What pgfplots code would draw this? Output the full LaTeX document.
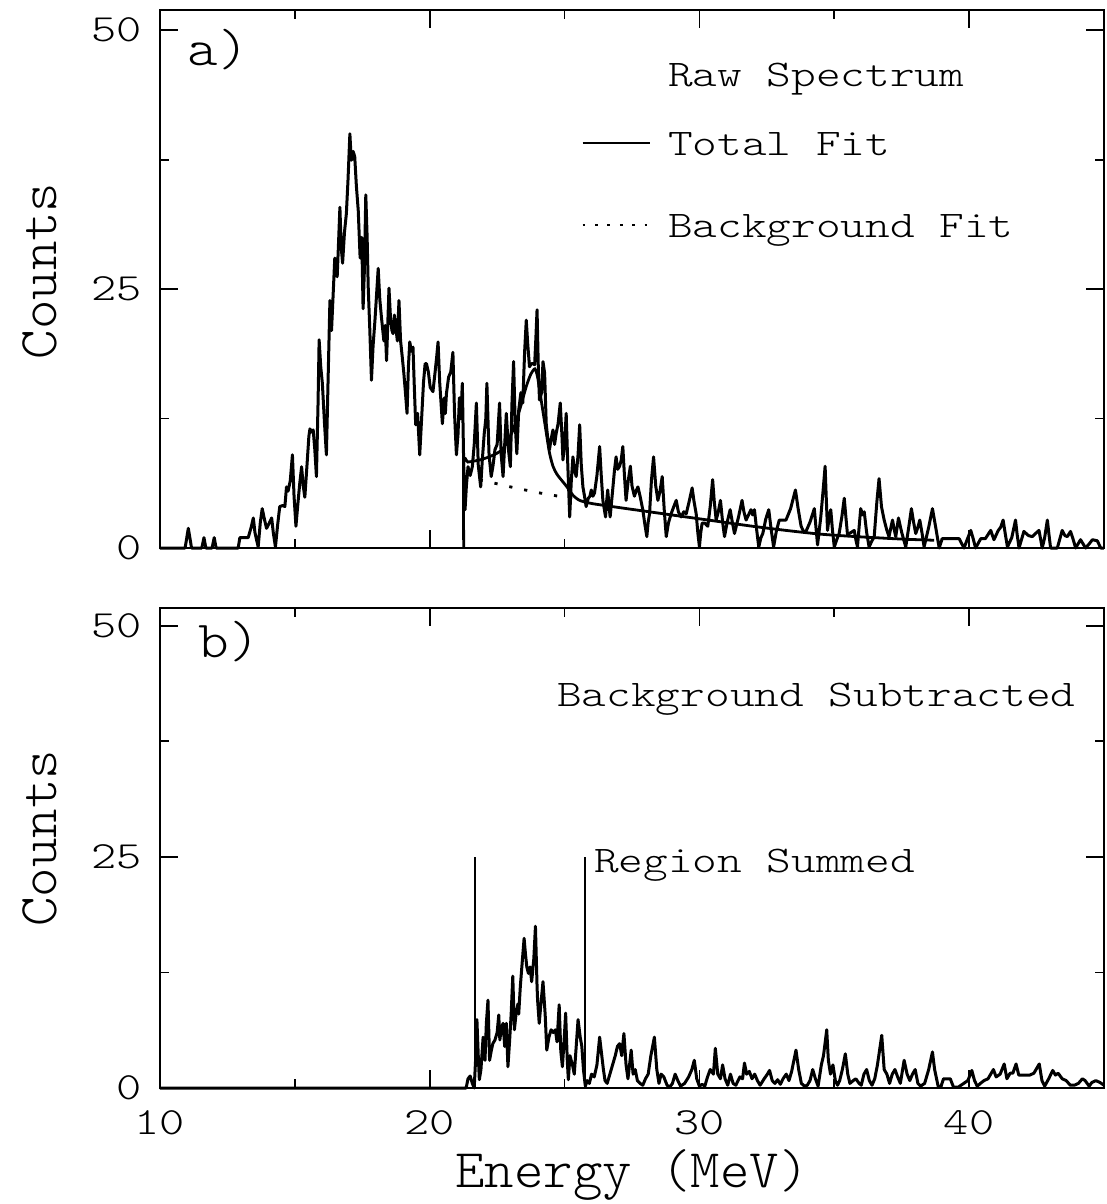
\documentclass[border=0pt]{standalone}
\usepackage{fontspec}
\newfontfamily\annfont{lmmonolt10-regular}[Extension=.otf, FakeStretch=1.25]
\newfontfamily\panfont{lmmonolt10-regular}[Extension=.otf, FakeStretch=1.12]
\newfontfamily\labfont{lmmonolt10-regular}[Extension=.otf, FakeStretch=1.03]
\usepackage{pgfplots}
\pgfplotsset{compat=1.18}
\tikzset{
  ann/.style={anchor=base west, inner sep=0pt, font=\annfont\fontsize{9.4}{11}\selectfont},
  pan/.style={anchor=base west, inner sep=0pt, font=\panfont\fontsize{13}{15}\selectfont},
}
\begin{document}
\begin{tikzpicture}
\useasboundingbox (-40pt,-164pt) rectangle (236.75pt,137pt);
\pgfplotsset{
  spec/.style={
    scale only axis, width=236pt,
    xmin=10, xmax=45, ymin=0, ymax=51.95,
    xtick={10,20,30,40}, minor xtick={15,25,35},
    ytick={0,25,50}, minor ytick={12.5,37.5},
    tick align=inside,
    major tick length=4.5pt, minor tick length=2.3pt,
    axis line style={line width=0.45pt},
    every tick/.style={black, line width=0.45pt},
    /pgf/number format/assume math mode=true,
    tick label style={font=\annfont\fontsize{9.6}{11}\selectfont},
    yticklabel style={xshift=-1pt},
    xticklabel style={yshift=-2pt},
    label style={font=\labfont\fontsize{13.6}{15}\selectfont},
    ylabel={Counts},
    clip=false,
  },
  dat/.style={black, line width=0.75pt, line join=round},
}
% ---------------- panel a ----------------
\begin{axis}[spec, height=134.5pt, xticklabels={},
  ylabel style={at={(axis description cs:-0.108,0.515)}, anchor=south, inner sep=0pt}]
\addplot[dat] coordinates {
(10,0) (10.93,0) (11.05,1.9) (11.17,0) (11.55,0) (11.63,1.0) (11.7,0) (11.93,0) (12.01,1.0) (12.08,0) (12.9,0) (12.96,1.0) (13.27,1.0) (13.38,2.0) (13.46,2.9) (13.52,1.5) (13.64,0.1) (13.72,2.5) (13.79,3.8) (13.87,2.8) (13.95,1.9) (14.05,2.4) (14.14,2.9) (14.2,1.5) (14.28,0.1) (14.36,2.2) (14.44,4.0) (14.55,4.1) (14.63,4.0) (14.69,5.9) (14.75,5.5) (14.83,6.5) (14.91,9.0) (14.97,5.0) (15.04,2.1) (15.12,4.5) (15.18,6.2) (15.25,7.85) (15.31,6.0) (15.37,4.9) (15.45,8.0) (15.52,10.8) (15.56,11.5) (15.62,11.2) (15.68,11.4) (15.74,9.5) (15.8,6.9) (15.86,14.0) (15.9,20.1) (15.96,17.5) (16.02,15.9) (16.1,12.0) (16.17,9.0) (16.23,16.0) (16.3,23.9) (16.36,21.0) (16.42,24.5) (16.48,28.0) (16.53,26.5) (16.57,26.2) (16.62,29.5) (16.67,32.9) (16.72,29.0) (16.77,27.5) (16.84,30.5) (16.91,32.3) (16.97,35.5) (17.04,40.0) (17.08,38.0) (17.1,37.45) (17.16,38.3) (17.22,37.8) (17.28,35.0) (17.35,32.6) (17.42,28.0) (17.48,30.0) (17.53,23.1) (17.58,27.0) (17.63,34.1) (17.68,30.0) (17.72,25.2) (17.78,21.0) (17.84,16.2) (17.9,19.5) (17.97,22.0) (18.03,24.5) (18.09,27.0) (18.15,24.0) (18.21,22.3) (18.3,20.0) (18.35,21.5) (18.4,18.1) (18.45,22.0) (18.49,25.1) (18.55,22.0) (18.6,21.0) (18.64,20.7) (18.69,22.5) (18.74,21.4) (18.8,20.0) (18.86,23.9) (18.92,20.0) (18.98,18.5) (19.04,16.9) (19.1,15.0) (19.16,13.0) (19.21,17.5) (19.26,19.9) (19.32,19.0) (19.38,19.4) (19.43,15.5) (19.48,11.9) (19.55,13.0) (19.63,9.0) (19.7,12.5) (19.77,16.0) (19.83,17.8) (19.88,17.8) (19.95,17.0) (20.02,15.5) (20.12,15.1) (20.2,17.0) (20.26,18.5) (20.31,19.9) (20.37,16.0) (20.42,14.0) (20.47,12.0) (20.54,14.5) (20.58,13.0) (20.62,14.9) (20.7,16.5) (20.78,17.0) (20.86,18.9) (20.92,13.0) (20.99,9.0) (21.05,11.0) (21.1,14.5) (21.15,12.5) (21.21,15.9) (21.26,8.0) (21.31,3.7) (21.36,6.0) (21.42,7.85) (21.5,7.0) (21.58,7.85) (21.65,10.0) (21.73,14.0) (21.8,8.0) (21.89,5.9) (21.95,8.5) (22.02,11.0) (22.08,12.5) (22.12,15.9) (22.2,9.0) (22.28,6.9) (22.35,8.0) (22.42,9.5) (22.5,10.0) (22.59,14.0) (22.65,9.0) (22.72,6.9) (22.78,10.0) (22.84,13.0) (22.92,9.5) (22.99,7.85) (23.05,14.0) (23.11,18.0) (23.17,12.0) (23.23,9.1) (23.3,13.3) (23.38,15.0) (23.45,14.0) (23.52,19.0) (23.58,22.0) (23.64,19.5) (23.7,17.5) (23.77,17.8) (23.83,17.8) (23.89,17.7) (23.94,20.5) (23.98,23.0) (24.03,17.0) (24.07,14.3) (24.15,15.0) (24.2,18.0) (24.26,16.9) (24.32,12.0) (24.38,10.5) (24.44,9.5) (24.5,10.5) (24.57,11.4) (24.63,10.0) (24.69,11.1) (24.76,12.0) (24.84,14.0) (24.9,11.0) (24.94,8.5) (25.0,10.0) (25.06,13.0) (25.12,8.0) (25.19,3.0) (25.25,6.5) (25.31,8.8) (25.37,7.5) (25.43,6.9) (25.5,9.0) (25.56,11.9) (25.62,8.0) (25.68,5.9) (25.74,5.0) (25.8,4.0) (25.88,4.8) (25.94,5.0) (25.99,5.6) (26.05,5.0) (26.11,5.3) (26.2,7.0) (26.3,9.8) (26.36,7.0) (26.42,4.6) (26.47,3.8) (26.52,3.0) (26.56,4.5) (26.6,5.6) (26.65,4.0) (26.69,3.0) (26.78,5.5) (26.85,7.5) (26.91,8.8) (26.97,7.6) (27.04,7.9) (27.1,8.5) (27.16,9.8) (27.22,7.0) (27.28,4.6) (27.36,6.5) (27.44,7.9) (27.5,6.0) (27.59,5.0) (27.65,5.5) (27.72,5.9) (27.8,5.0) (27.9,3.7) (27.97,2.4) (28.05,1.1) (28.1,2.5) (28.15,3.3) (28.22,6.5) (28.3,8.8) (28.38,6.0) (28.46,4.6) (28.54,5.5) (28.62,6.9) (28.7,3.5) (28.77,1.1) (28.85,2.4) (28.95,3.3) (29.05,4.0) (29.14,4.6) (29.22,3.5) (29.32,3.0) (29.42,3.5) (29.51,3.3) (29.62,4.5) (29.73,5.8) (29.8,4.5) (29.88,3.3) (29.94,1.5) (30.0,0.1) (30.05,1.5) (30.1,2.4) (30.2,2.4) (30.31,2.1) (30.4,4.0) (30.49,6.6) (30.55,4.5) (30.62,2.7) (30.7,3.5) (30.78,4.6) (30.86,2.5) (30.93,1.1) (31.03,2.5) (31.14,3.7) (31.22,2.5) (31.3,1.4) (31.45,3.0) (31.58,4.6) (31.65,3.5) (31.73,2.7) (31.82,3.2) (31.91,3.7) (31.97,3.2) (32.04,3.7) (32.12,1.8) (32.2,0.1) (32.28,1.0) (32.35,1.4) (32.46,2.8) (32.57,3.7) (32.66,1.8) (32.75,0.1) (32.85,1.6) (32.96,2.7) (33.1,2.7) (33.21,2.7) (33.38,3.8) (33.56,5.6) (33.66,3.8) (33.77,2.1) (33.86,1.6) (33.95,1.6) (34.1,2.5) (34.26,3.8) (34.32,2.0) (34.38,0.3) (34.5,3.0) (34.6,6.0) (34.66,7.9) (34.7,5.0) (34.75,1.7) (34.81,3.0) (34.87,3.7) (34.93,1.8) (35.0,0.1) (35.09,0.8) (35.18,1.4) (35.28,3.0) (35.37,4.8) (35.43,3.0) (35.49,1.3) (35.62,1.5) (35.74,1.7) (35.8,0.8) (35.86,0.1) (35.92,2.0) (35.98,3.8) (36.05,3.2) (36.11,3.5) (36.2,1.5) (36.29,0.1) (36.38,0.6) (36.48,1.1) (36.58,4.5) (36.66,6.7) (36.75,4.0) (36.85,2.7) (36.94,1.8) (37.03,1.1) (37.1,2.0) (37.16,2.7) (37.22,1.8) (37.28,1.1) (37.33,2.0) (37.38,2.9) (37.5,1.5) (37.65,0.1) (37.76,2.0) (37.86,3.8) (37.94,2.5) (38.02,1.4) (38.1,2.0) (38.17,2.7) (38.25,1.5) (38.33,0.1) (38.5,2.0) (38.64,3.8) (38.76,2.0) (38.89,0.0) (39.0,0.9) (39.13,0.9) (39.63,0.9) (39.81,0.0) (39.94,0.9) (40.06,1.7) (40.15,0.9) (40.24,0.0) (40.43,0.9) (40.6,0.9) (40.8,1.7) (40.92,0.8) (41.08,1.7) (41.17,2.0) (41.26,2.7) (41.35,1.2) (41.42,0.1) (41.58,1.0) (41.72,2.7) (41.78,1.3) (41.85,0.0) (42.03,1.6) (42.2,1.2) (42.34,1.1) (42.46,1.4) (42.59,1.7) (42.71,0.0) (42.8,1.0) (42.9,2.7) (42.96,1.3) (43.02,0.0) (43.27,0.0) (43.45,1.7) (43.55,1.2) (43.64,1.1) (43.76,1.6) (43.86,0.8) (43.95,0.0) (44.13,0.8) (44.32,0.0) (44.45,0.4) (44.57,0.8) (44.75,0.7) (44.88,0.0) (45.0,0.0)
};
% total fit
\addplot[black, line width=0.7pt, smooth, tension=0.4] coordinates {
(21.26,0) (21.26,8.3) (21.42,8.3) (21.85,8.5) (22.2,8.8) (22.59,9.3) (22.85,10.1) (23.09,11.4) (23.33,13.3) (23.58,15.6) (23.75,16.8) (23.9,17.3) (24.0,16.5) (24.15,14.0) (24.3,11.5) (24.44,9.2) (24.57,7.9) (24.7,7.2) (24.81,6.8) (25.06,6.0) (25.31,5.1) (25.56,4.6) (26.0,4.3) (27.04,3.9) (28.27,3.45) (29.5,3.0) (30.74,2.55) (31.97,2.1) (33.21,1.7) (34.44,1.35) (35.5,1.15) (36.5,1.0) (37.6,0.85) (38.7,0.75)
};
% background fit
\addplot[black, line width=0.7pt, dash pattern=on 0.8pt off 3pt] coordinates {
(21.3,6.9) (22.0,6.5) (23.0,5.9) (24.0,5.35) (25.0,4.9) (25.5,4.65)
};
% legend samples
\addplot[black, line width=0.6pt] coordinates {(25.67,39.1) (28.15,39.1)};
\addplot[black, line width=0.6pt, dash pattern=on 0.7pt off 2.4pt] coordinates {(25.67,31.2) (28.15,31.2)};
\node[pan] at (axis cs:11.0,46.6) {a)};
\node[ann] at (axis cs:28.81,44.6) {Raw Spectrum};
\node[ann] at (axis cs:28.81,37.9) {Total Fit};
\node[ann] at (axis cs:28.81,30.0) {Background Fit};
\end{axis}
% ---------------- panel b ----------------
\begin{axis}[spec, height=120pt, at={(0,-135pt)},
  xlabel={Energy (MeV)},
  xlabel style={at={(axis description cs:0.5,-0.208)}, anchor=base, inner sep=0pt},
  ylabel style={at={(axis description cs:-0.108,0.52)}, anchor=south, inner sep=0pt}]
\addplot[dat] coordinates {
(10,0) (21.35,0) (21.42,1.0) (21.5,1.3) (21.58,0.5) (21.65,0) (21.7,3.0) (21.75,7.4) (21.8,3.5) (21.84,0.9) (21.9,2.0) (21.98,5.5) (22.05,3.0) (22.1,7.0) (22.16,9.5) (22.22,3.0) (22.28,4.0) (22.34,4.8) (22.42,5.2) (22.5,6.0) (22.56,7.9) (22.6,5.2) (22.66,6.5) (22.72,7.0) (22.78,4.5) (22.84,7.0) (22.9,2.3) (22.96,5.0) (23.02,8.0) (23.08,12.1) (23.14,6.3) (23.2,8.0) (23.27,9.1) (23.3,8.0) (23.36,11.0) (23.44,14.0) (23.5,16.2) (23.55,14.5) (23.6,13.1) (23.66,12.4) (23.72,13.1) (23.78,11.5) (23.86,14.0) (23.92,17.5) (23.98,11.0) (24.0,9.5) (24.06,7.0) (24.12,9.0) (24.2,11.5) (24.28,8.0) (24.34,4.1) (24.42,5.5) (24.5,6.3) (24.58,6.0) (24.66,6.3) (24.72,5.0) (24.8,9.0) (24.86,4.0) (24.92,2.3) (24.98,5.0) (25.04,8.1) (25.1,3.0) (25.14,0.9) (25.2,3.5) (25.3,2.4) (25.36,1.5) (25.42,4.0) (25.5,7.4) (25.58,5.5) (25.64,4.5) (25.7,2.0) (25.77,0.2) (25.84,0.8) (25.92,0.5) (26.0,1.5) (26.1,1.2) (26.2,2.5) (26.3,5.5) (26.36,4.0) (26.44,2.0) (26.5,0.8) (26.58,0.5) (26.68,1.5) (26.78,2.5) (26.88,3.5) (26.96,4.5) (27.04,4.8) (27.12,3.5) (27.2,5.9) (27.28,2.5) (27.35,1.0) (27.41,2.5) (27.47,4.1) (27.54,1.5) (27.62,2.0) (27.7,0.8) (27.8,0.5) (27.9,0.3) (28.0,1.0) (28.1,1.5) (28.2,3.5) (28.33,5.5) (28.42,2.0) (28.5,0.5) (28.58,1.5) (28.68,1.2) (28.8,0.3) (28.9,0.1) (29.0,0.5) (29.1,1.5) (29.2,0.8) (29.3,0.2) (29.45,0.5) (29.6,1.2) (29.72,2.0) (29.81,3.0) (29.9,1.0) (30.0,0.2) (30.1,0.4) (30.2,0.2) (30.3,1.2) (30.4,2.0) (30.52,1.5) (30.59,4.3) (30.68,1.5) (30.78,1.0) (30.86,2.5) (30.95,1.0) (31.05,0.3) (31.15,1.5) (31.25,0.5) (31.35,0.3) (31.5,1.2) (31.6,1.0) (31.67,2.7) (31.75,1.5) (31.85,1.8) (31.95,1.0) (32.05,1.5) (32.15,0.8) (32.25,0.3) (32.4,1.0) (32.52,1.5) (32.6,1.9) (32.7,0.8) (32.8,0.5) (32.9,0.9) (33.0,0.4) (33.1,1.0) (33.22,1.5) (33.32,0.8) (33.42,1.8) (33.58,4.1) (33.68,2.0) (33.78,0.5) (33.9,0.2) (34.0,0.3) (34.1,0.8) (34.2,2.0) (34.3,1.0) (34.4,0.2) (34.52,2.5) (34.6,3.5) (34.72,6.3) (34.78,3.0) (34.86,1.5) (34.95,2.5) (35.04,0.8) (35.12,0.3) (35.2,0.8) (35.3,2.0) (35.41,3.7) (35.5,1.5) (35.58,0.5) (35.7,0.8) (35.8,1.0) (35.92,0.5) (36.0,0.3) (36.1,1.5) (36.2,2.0) (36.3,0.8) (36.4,0.3) (36.5,1.0) (36.6,2.5) (36.76,5.7) (36.85,2.0) (36.95,1.5) (37.05,0.5) (37.15,1.5) (37.25,2.0) (37.35,1.2) (37.45,0.5) (37.59,3.0) (37.7,1.5) (37.8,0.8) (37.9,1.5) (38.0,2.0) (38.1,0.5) (38.2,0.2) (38.35,0.5) (38.5,2.0) (38.64,3.9) (38.72,2.0) (38.85,0.2) (38.95,0.1) (39.05,1.0) (39.3,1.0) (39.42,0.1) (39.6,0.1) (39.8,0.5) (39.95,0.8) (40.05,1.5) (40.1,1.9) (40.2,0.8) (40.3,0.2) (40.42,0.5) (40.55,0.8) (40.7,1.0) (40.8,1.5) (40.9,2.0) (41.0,1.2) (41.15,1.5) (41.3,2.6) (41.4,1.0) (41.52,1.6) (41.62,1.6) (41.74,2.6) (41.84,1.4) (41.95,1.4) (42.1,1.4) (42.25,1.4) (42.4,1.6) (42.6,2.6) (42.7,0.8) (42.8,0.2) (42.95,1.0) (43.1,1.9) (43.2,1.4) (43.3,1.6) (43.45,1.0) (43.6,0.8) (43.75,0.3) (43.9,0.3) (44.05,0.5) (44.2,1.0) (44.3,0.8) (44.45,0.2) (44.55,0.6) (44.7,0.8) (44.85,0.6) (45.0,0.3)
};
\addplot[black, line width=0.5pt] coordinates {(21.69,0) (21.69,25)};
\addplot[black, line width=0.5pt] coordinates {(25.75,0) (25.75,25)};
\node[pan] at (axis cs:11.4,46.6) {b)};
\node[ann] at (axis cs:24.7,41.3) {Background Subtracted};
\node[ann] at (axis cs:26.07,23.3) {Region Summed};
\end{axis}
\end{tikzpicture}
\end{document}
